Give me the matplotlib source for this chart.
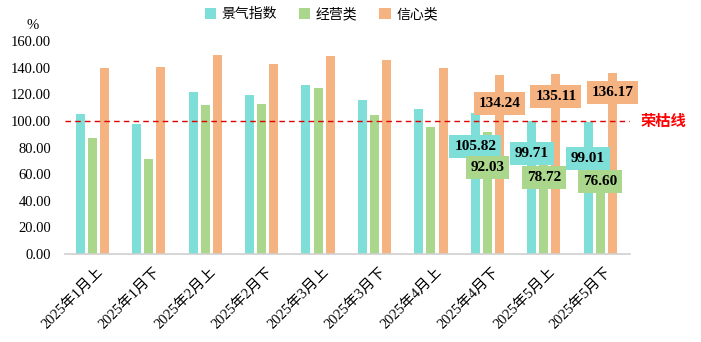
import matplotlib
matplotlib.use("Agg")
import matplotlib.pyplot as plt
import numpy as np

# categories and series
periods = ["2025年1月上", "2025年1月下", "2025年2月上", "2025年2月下", "2025年3月上",
           "2025年3月下", "2025年4月上", "2025年4月下", "2025年5月上", "2025年5月下"]
jingqi = [105.2, 97.7, 121.7, 119.5, 127.0, 115.7, 109.0, 105.82, 99.71, 99.01]
jingying = [87.2, 71.4, 112.0, 112.7, 124.7, 104.4, 95.4, 92.03, 78.72, 76.60]
xinxin = [139.7, 140.5, 149.5, 142.7, 148.8, 145.8, 139.7, 134.24, 135.11, 136.17]
yticks = [0, 20, 40, 60, 80, 100, 120, 140, 160]
series_names = ["景气指数", "经营类", "信心类"]

colors = ["#7EDED8", "#AAD78C", "#F5B382"]

serif = ["Liberation Serif", "Noto Sans CJK SC"]
sans = ["Noto Sans CJK SC", "DejaVu Sans"]

fig = plt.figure(figsize=(7.01, 3.42), dpi=100)
ax = fig.add_axes([0.093, 0.257, 0.806, 0.623])

x = np.arange(len(periods))
w = 0.16
off = 0.215
series = [jingqi, jingying, xinxin]
for i, (vals, c, name) in enumerate(zip(series, colors, series_names)):
  ax.bar(x + (i - 1) * off, vals, width=w, color=c, label=name, zorder=2)

# labels on last three periods (vertical drop below bar top, per series)
drops = [[25, 24, 27.5], [27, 21, 22], [21, 17, 15]]
for i, vals in enumerate(series):
  for k, idx in enumerate(range(7, 10)):
    ax.text(idx + (i - 1) * off, vals[idx] - drops[i][k], "%.2f" % vals[idx],
            ha="center", va="center", fontsize=11, fontweight="bold",
            family=serif, zorder=4,
            bbox=dict(boxstyle="square,pad=0.32", fc=colors[i], ec="none"))

ax.axhline(100, color="#E00000", ls=(0, (4, 3)), lw=1, zorder=3)
ax.text(10.12, 100, "荣枯线", color="#FF0000", fontsize=11, fontweight="bold",
        family=sans, ha="center", va="center", clip_on=False)

ax.set_xlim(-0.48, 9.53)
ax.set_ylim(0, 160)
ax.set_yticks(yticks)
ax.set_yticklabels(["%.2f" % v for v in yticks], family=serif, fontsize=10.5)
ax.set_xticks(x + 0.08)
ax.set_xticklabels(periods, rotation=45, ha="right", rotation_mode="anchor",
                   family=serif, fontsize=10.5)
ax.tick_params(axis="both", length=0)
ax.tick_params(axis="x", pad=8)
ax.tick_params(axis="y", pad=10)
for s in ["top", "right", "left"]:
  ax.spines[s].set_visible(False)
ax.spines["bottom"].set_color("#D0D0D0")
ax.spines["bottom"].set_linewidth(1.2)

fig.text(0.047, 0.925, "%", family=serif, fontsize=10.5, ha="center", va="center")

leg = ax.legend(loc="center", bbox_to_anchor=(0.453, 1.125), ncol=3, frameon=False,
                prop={"family": sans, "size": 10}, handlelength=0.8, handleheight=0.8,
                columnspacing=1.6, handletextpad=0.4)

fig.savefig("out.png", dpi=100)
